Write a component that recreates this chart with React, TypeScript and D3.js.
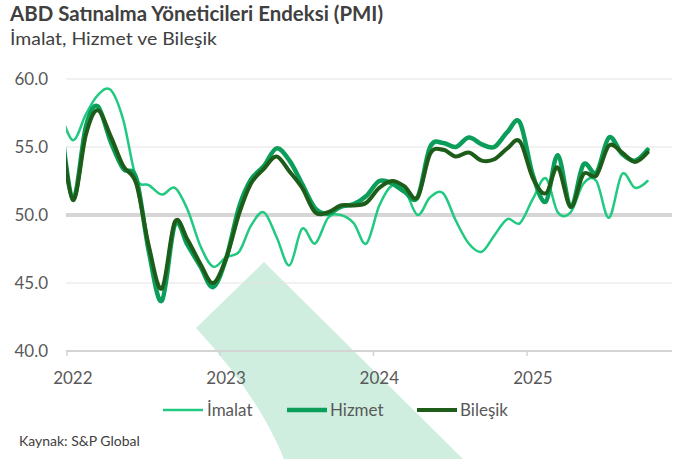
import React from 'react';
import {scaleLinear, scaleTime, line, curveCardinal} from 'd3';

// monthly values, Dec 2021 .. Oct 2025 (Dec 2021 sits left of the plot and gets clipped)
const firstMonth = {year: 2021, month: 11};

const imalat = [
  57.7,
  55.5, 57.4, 58.8, 59.2, 57.0, 52.7, 52.2, 51.5, 52.0, 50.4, 47.7, 46.2,
  46.9, 47.3, 49.2, 50.2, 48.4, 46.3, 49.0, 47.9, 49.8, 50.0, 49.4, 47.9,
  50.7, 52.2, 51.9, 50.0, 51.3, 51.6, 49.6, 47.9, 47.3, 48.5, 49.7, 49.4,
  51.2, 52.7, 50.2, 50.2, 52.3, 52.5, 49.8, 53.0, 52.0, 52.5,
];

const hizmet = [
  57.6,
  51.2, 56.5, 58.0, 55.4, 53.4, 52.7, 47.3, 43.7, 49.3, 47.8, 46.2, 44.7,
  46.8, 50.6, 52.6, 53.6, 54.9, 54.0, 52.3, 50.5, 50.1, 50.6, 50.8, 51.4,
  52.5, 52.3, 51.7, 51.3, 55.0, 55.3, 55.0, 55.7, 55.2, 55.0, 56.1, 56.8,
  52.9, 51.0, 54.4, 50.6, 53.7, 53.1, 55.7, 54.5, 54.0, 54.8,
];

const bilesik = [
  57.0,
  51.1, 55.9, 57.7, 55.8, 53.6, 52.3, 47.7, 44.6, 49.5, 48.2, 46.4, 45.0,
  46.8, 50.1, 52.3, 53.4, 54.3, 53.2, 52.0, 50.2, 50.2, 50.7, 50.7, 50.9,
  52.0, 52.5, 52.1, 51.3, 54.5, 54.8, 54.3, 54.6, 54.0, 54.1, 54.9, 55.4,
  52.7, 51.6, 53.5, 50.6, 53.0, 52.9, 55.1, 54.6, 53.9, 54.6,
];

const years = [2022, 2023, 2024, 2025];
const yTicks = [40, 45, 50, 55, 60];

const seriesList = [
  {name: 'İmalat', values: imalat, color: '#22c980', width: 2.5},
  {name: 'Hizmet', values: hizmet, color: '#0b9e5a', width: 4.5},
  {name: 'Bileşik', values: bilesik, color: '#1d5c19', width: 4},
];

const width = 673;
const height = 459;
const plotLeft = 66;
const plotRight = 672;
const font = 'Lato, "Noto Sans", sans-serif';

const xScale = scaleTime()
  .domain([new Date(2022, 0, 1), new Date(2026, 0, 1)])
  .range([67, 680.3]);

const yScale = scaleLinear()
  .domain([40, 60])
  .range([351, 79]);

const monthDate = (i: number) => new Date(firstMonth.year, firstMonth.month + i, 15);

const lineGen = line<number>()
  .x((d, i) => xScale(monthDate(i)))
  .y((d) => yScale(d))
  .curve(curveCardinal.tension(0));

const legendItems = [
  {x: 163, textX: 207},
  {x: 287, textX: 330},
  {x: 417, textX: 460},
];

export default function App() {
  return (
    <svg
      width={width}
      height={height}
      style={{position: 'absolute', left: 0, top: 0, background: '#fff'}}
      fontFamily={font}
    >
      <defs>
        <clipPath id="plot-clip">
          <rect x={plotLeft} y={0} width={plotRight - plotLeft} height={height} />
        </clipPath>
      </defs>

      {/* watermark shape in the background */}
      <path d="M264,262 L463,459 L284,459 Q258,395 196,328 Z" fill="#cfeee0" />

      <text x={10} y={21} fontSize={20} fontWeight="bold" fill="#404040"
        textLength={373} lengthAdjust="spacingAndGlyphs">
        ABD Satınalma Yöneticileri Endeksi (PMI)
      </text>
      <text x={10} y={45} fontSize={17} fill="#404040"
        textLength={207} lengthAdjust="spacingAndGlyphs">
        İmalat, Hizmet ve Bileşik
      </text>

      {yTicks.filter((t) => t !== 40 && t !== 50).map((t) => (
        <line key={t} x1={plotLeft} x2={plotRight} y1={yScale(t)} y2={yScale(t)}
          stroke="#e3e3e3" strokeWidth={1} />
      ))}
      <line x1={plotLeft} x2={plotRight} y1={yScale(50)} y2={yScale(50)}
        stroke="#d6d6d6" strokeWidth={3.8} />
      <line x1={plotLeft} x2={plotRight} y1={yScale(40)} y2={yScale(40)}
        stroke="#d4d4d4" strokeWidth={2} />

      {yTicks.map((t) => (
        <text key={t} x={48} y={yScale(t)} dy="0.35em" textAnchor="end"
          fontSize={17} fill="#595959">{t.toFixed(1)}</text>
      ))}

      {years.map((yr) => (
        <g key={yr}>
          <line x1={xScale(new Date(yr, 0, 1))} x2={xScale(new Date(yr, 0, 1))}
            y1={yScale(40)} y2={yScale(40) + 5} stroke="#d4d4d4" strokeWidth={1.5} />
          <text x={xScale(new Date(yr, 0, 15))} y={384} textAnchor="middle"
            fontSize={17} fill="#595959">{yr}</text>
        </g>
      ))}

      <g clipPath="url(#plot-clip)">
        {seriesList.map((s) => (
          <path key={s.name} d={lineGen(s.values) || ''} fill="none"
            stroke={s.color} strokeWidth={s.width}
            strokeLinejoin="round" strokeLinecap="round" />
        ))}
      </g>

      {seriesList.map((s, i) => (
        <g key={s.name}>
          <line x1={legendItems[i].x} x2={legendItems[i].x + 40} y1={410} y2={410}
            stroke={s.color} strokeWidth={s.width} />
          <text x={legendItems[i].textX} y={416} fontSize={17} fill="#595959">{s.name}</text>
        </g>
      ))}

      <text x={19} y={446} fontSize={14} fill="#404040">Kaynak: S&amp;P Global</text>
    </svg>
  );
}
